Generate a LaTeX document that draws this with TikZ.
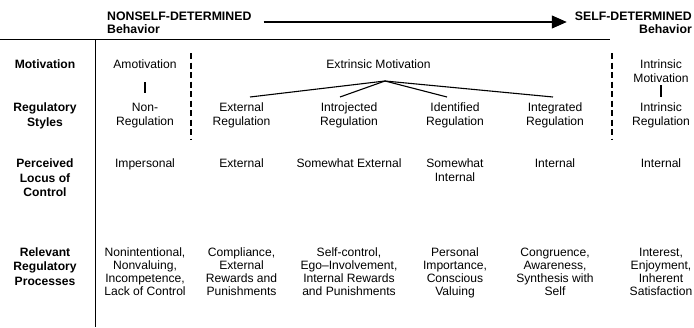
\documentclass[tikz,border=0pt]{standalone}
\usepackage{fontspec}
\setmainfont{Liberation Sans}
\usetikzlibrary{arrows.meta}

\begin{document}
\begin{tikzpicture}[x=1pt, y=-1pt,
  every node/.style={inner sep=0pt},
  cell/.style={align=center, anchor=north, font=\fontsize{12.1}{14}\selectfont},
  proc/.style={align=center, anchor=north, font=\fontsize{12.1}{13}\selectfont},
  rowlbl/.style={cell, font=\fontsize{12.1}{14.3}\selectfont\bfseries},
  hdr/.style={font=\fontsize{12.3}{14}\selectfont\bfseries},
  link/.style={line width=1.1pt, color=black},
  rule/.style={line width=1.3pt, color=black},
  split/.style={line width=1.2pt, color=black, dash pattern=on 6pt off 3.5pt},
  fwd/.style={line width=1.2pt, -{Triangle[length=15pt, width=13pt]}}]
\useasboundingbox (0,0) rectangle (694,327);
\node (nonself) [hdr, anchor=base west] at (107, 20) {NONSELF-DETERMINED};
\node (nonbeh) [hdr, anchor=base west] at (107, 33.5) {Behavior};
\node (self) [hdr, anchor=base east] at (692, 20) {SELF-DETERMINED};
\node (selfbeh) [hdr, anchor=base east] at (692, 33.5) {Behavior};
\draw [fwd] ([shift={(12,2)}]nonself.base east) -- ([shift={(-8,2)}]self.base west);
\coordinate (ruleL) at (0, 39.5);
\coordinate (ruleR) at (610, 39.5);
\coordinate (axisT) at (95.7, 39.5);
\coordinate (axisB) at (95.7, 327);
\coordinate (splitAT) at (191, 53);
\coordinate (splitAB) at (191, 140);
\coordinate (splitBT) at (612, 53);
\coordinate (splitBB) at (612, 140);
\draw [rule] (ruleL) -- (ruleR);
\draw [rule] (axisT) -- (axisB);
\draw [split] (splitAT) -- (splitAB);
\draw [split] (splitBT) -- (splitBB);
\node (rowmot) [rowlbl] at (45, 60) {Motivation};
\node (rowreg) [rowlbl] at (45, 103) {Regulatory\\Styles};
\node (rowloc) [rowlbl] at (45, 159) {Perceived\\Locus of\\Control};
\node (rowproc) [rowlbl] at (45, 247.5) {Relevant\\Regulatory\\Processes};
\node (amot) [cell] at (145, 60) {Amotivation};
\node (extmot) [cell] at (378.5, 60) {Extrinsic Motivation};
\node (intmot) [cell] at (661, 60) {Intrinsic\\Motivation};
\node (nonreg) [cell] at (145, 103) {Non-\\Regulation};
\node (extreg) [cell] at (241.5, 103) {External\\Regulation};
\node (introreg) [cell] at (349, 103) {Introjected\\Regulation};
\node (identreg) [cell] at (455, 103) {Identified\\Regulation};
\node (integreg) [cell] at (555, 103) {Integrated\\Regulation};
\node (intreg) [cell] at (661, 103) {Intrinsic\\Regulation};
\node (imperloc) [cell] at (145, 159) {Impersonal};
\node (extloc) [cell] at (241.5, 159) {External};
\node (someextloc) [cell] at (349, 159) {Somewhat External};
\node (someintloc) [cell] at (455, 159) {Somewhat\\Internal};
\node (integloc) [cell] at (555, 159) {Internal};
\node (intloc) [cell] at (661, 159) {Internal};
\node (amotproc) [proc] at (145, 247.5) {Nonintentional,\\Nonvaluing,\\Incompetence,\\Lack of Control};
\node (extproc) [proc] at (241.5, 247.5) {Compliance,\\External\\Rewards and\\Punishments};
\node (introproc) [proc] at (349, 247.5) {Self-control,\\Ego--Involvement,\\Internal Rewards\\and Punishments};
\node (identproc) [proc] at (455, 247.5) {Personal\\Importance,\\Conscious\\Valuing};
\node (integproc) [proc] at (555, 247.5) {Congruence,\\Awareness,\\Synthesis with\\Self};
\node (intproc) [proc] at (661, 247.5) {Interest,\\Enjoyment,\\Inherent\\Satisfaction};
\coordinate (fan) at (385, 81);
\draw [link, shorten <=13pt, shorten >=10pt] (amot.south) -- (nonreg.north);
\draw [link, shorten <=2pt, shorten >=6pt] (intmot.south) -- (intreg.north);
\foreach \col/\dx in {extreg/8.5, introreg/-9, identreg/-8, integreg/-2}
  \draw [link] (fan) -- ([shift={(\dx,-6)}]\col.north);
\end{tikzpicture}
\end{document}
